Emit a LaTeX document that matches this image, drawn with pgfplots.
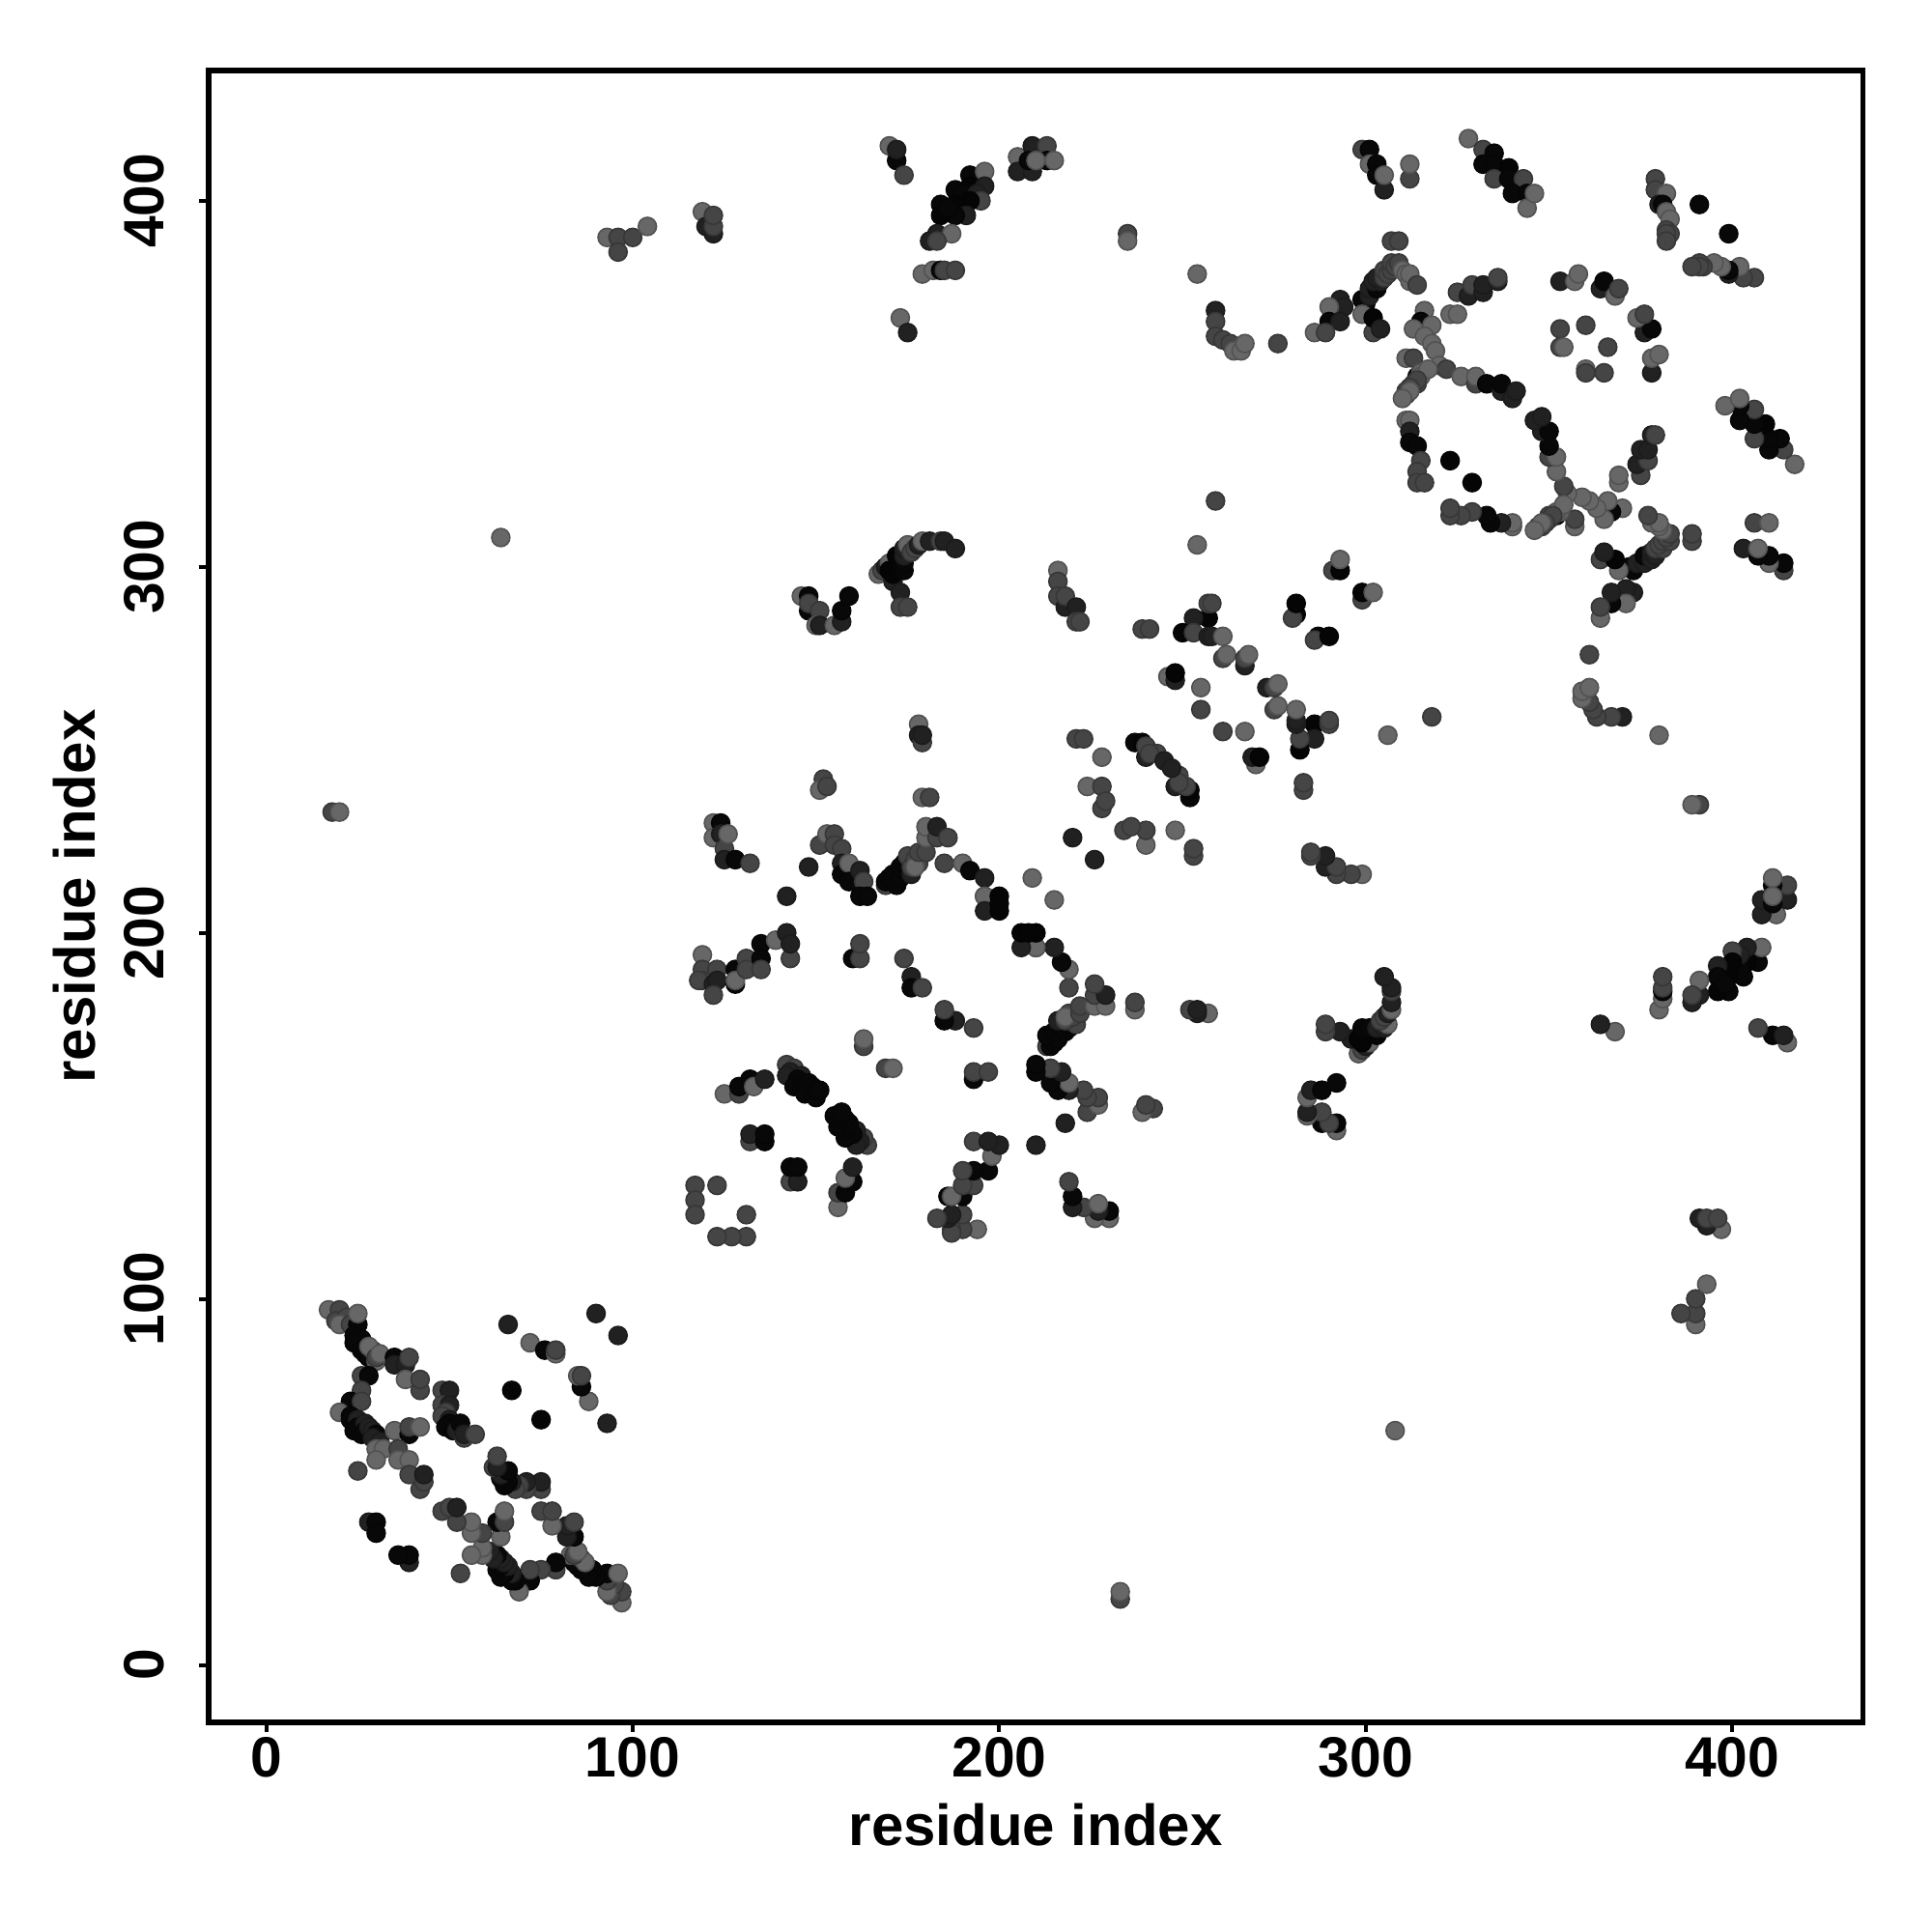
\documentclass[border=0pt]{standalone}
\usepackage{pgfplots}
\usepackage{pgfplotstable}
\usepackage{fontspec}
\setmainfont{Liberation Sans}
\pgfplotsset{compat=1.18}
\pgfplotstableread{
x y g
17 97 .4
20 97 .27
19 94 .27
22 95 .27
20 93 .4
23 93 .27
25 93 .03
24 90 .03
25 96 .4
26 89 .03
24 88 .03
26 86 .03
27 85 .03
28 84 .03
29 86 .27
28 87 .4
30 83 .4
30 84 .27
31 85 .4
35 84 .03
35 82 .13
38 82 .13
39 84 .27
38 78 .4
42 75 .27
42 78 .27
26 79 .27
28 79 .03
26 75 .27
23 72 .03
26 72 .27
20 69 .4
23 68 .03
23 67 .03
24 66 .03
25 67 .13
25 65 .03
24 64 .03
26 63 .03
27 66 .13
27 64 .03
28 65 .13
29 64 .13
30 63 .03
29 62 .13
31 61 .13
30 59 .4
32 59 .4
30 56 .4
35 64 .4
39 63 .03
39 65 .27
42 65 .4
36 59 .27
36 56 .4
39 56 .4
39 52 .27
42 48 .27
43 50 .27
43 52 .13
25 53 .27
28 39 .13
30 39 .03
30 36 .03
48 75 .27
50 75 .13
48 71 .27
50 71 .13
49 69 .27
48 68 .27
50 67 .13
50 66 .03
49 65 .03
51 64 .03
52 65 .03
52 64 .13
53 66 .03
54 62 .27
54 63 .13
57 63 .27
66 93 .13
72 88 .4
76 86 .03
79 85 .4
79 86 .27
67 75 .02
90 96 .13
119 194 .4
119 190 .27
119 187 .27
118 187 .27
122 186 .13
123 190 .27
123 187 .13
122 183 .27
128 186 .03
128 190 .03
128 187 .4
131 193 .27
131 190 .27
135 197 .03
135 193 .03
135 190 .27
139 198 .4
143 193 .27
142 200 .13
143 197 .13
122 230 .4
124 230 .03
122 226 .4
124 227 .13
125 223 .27
126 227 .4
125 220 .13
128 220 .03
132 219 .27
148 218 .13
142 210 .13
152 242 .27
151 239 .4
153 240 .27
178 257 .4
178 254 .13
179 252 .27
179 254 .13
179 237 .4
181 237 .27
221 253 .27
223 253 .27
228 248 .4
224 240 .4
228 240 .27
228 234 .27
229 236 .27
220 226 .13
160 193 .03
162 193 .27
162 197 .27
174 193 .27
176 188 .13
176 185 .03
179 185 .27
151 224 .27
153 227 .4
155 227 .27
155 224 .27
157 223 .27
157 219 .13
157 216 .03
159 219 .4
159 214 .03
162 217 .13
163 214 .27
162 210 .03
164 210 .03
169 213 .27
169 214 .03
170 215 .03
171 214 .03
171 216 .03
172 213 .03
173 215 .03
174 217 .03
173 218 .03
174 219 .03
176 216 .13
175 219 .03
175 221 .27
176 218 .27
177 220 .27
178 219 .27
177 218 .4
178 222 .27
180 222 .27
180 226 .4
180 229 .4
183 226 .27
183 229 .13
186 226 .27
185 219 .27
190 219 .4
192 217 .03
196 215 .13
209 215 .4
196 210 .13
196 210 .4
200 210 .02
196 206 .13
200 206 .02
200 208 .02
125 156 .4
129 156 .27
129 158 .03
132 160 .03
133 158 .4
136 160 .13
142 164 .27
144 163 .27
143 162 .13
142 161 .13
146 161 .13
145 160 .03
144 158 .03
146 158 .03
147 158 .03
147 156 .03
148 159 .03
149 156 .03
149 158 .03
150 155 .03
150 157 .03
151 157 .03
132 143 .27
132 145 .13
136 143 .03
136 145 .03
117 131 .27
123 131 .27
117 127 .27
117 123 .27
163 169 .27
163 171 .4
216 299 .4
216 296 .27
216 292 .27
218 289 .13
218 292 .27
221 289 .13
221 285 .27
222 285 .27
239 283 .27
241 283 .27
254 306 .4
259 318 .27
257 286 .02
253 286 .13
250 282 .02
253 282 .27
257 281 .13
258 281 .13
257 290 .27
258 290 .27
261 281 .4
261 275 .27
262 276 .4
267 273 .13
267 275 .27
268 276 .4
246 270 .4
248 269 .13
248 271 .02
255 267 .4
255 261 .27
281 287 .02
280 286 .27
281 290 .02
291 299 .27
293 299 .02
293 302 .4
237 252 .03
239 252 .02
240 248 .13
240 251 .27
243 249 .27
241 249 .27
245 247 .13
93 390 .4
96 390 .27
96 386 .27
100 390 .27
104 393 .4
119 397 .4
120 393 .13
122 391 .13
122 393 .27
122 396 .27
170 415 .4
172 411 .03
172 414 .13
174 407 .27
192 407 .03
196 408 .4
192 404 .02
196 404 .13
188 403 .03
190 402 .03
194 402 .13
195 400 .27
192 400 .02
188 399 .02
184 399 .03
191 396 .13
188 396 .03
184 396 .02
186 398 .03
183 391 .13
187 391 .4
181 389 .13
183 389 .27
179 380 .4
182 381 .4
184 381 .03
185 381 .27
188 381 .27
173 368 .4
175 364 .13
205 412 .4
205 408 .13
209 408 .13
209 415 .13
208 411 .03
213 415 .27
213 411 .03
210 411 .4
215 411 .4
146 292 .4
148 288 .03
148 292 .03
148 290 .27
151 288 .27
150 284 .4
151 284 .13
155 284 .4
157 285 .13
157 288 .03
159 292 .03
167 298 .4
168 299 .27
169 300 .13
170 301 .4
171 296 .13
170 299 .02
171 298 .02
172 300 .02
174 299 .03
173 302 .02
172 303 .02
174 301 .03
174 303 .13
174 305 .13
175 306 .4
176 304 .27
177 305 .27
178 306 .13
179 307 .4
181 307 .13
184 307 .27
185 307 .13
188 305 .13
173 293 .13
173 289 .27
175 289 .27
254 380 .4
259 370 .13
259 367 .27
259 363 .27
261 362 .27
263 361 .27
264 359 .4
266 359 .4
267 361 .4
276 361 .27
299 414 .27
301 414 .03
301 410 .4
303 410 .03
303 407 .03
305 403 .13
305 407 .4
312 406 .27
312 410 .4
328 417 .4
332 414 .27
335 413 .03
332 410 .03
335 410 .03
339 409 .02
335 406 .27
339 406 .03
343 406 .27
340 402 .03
344 402 .03
344 398 .4
346 402 .4
379 406 .27
379 403 .27
382 402 .4
380 399 .13
381 399 .03
382 397 .4
383 395 .4
382 392 .27
383 391 .27
382 391 .27
382 389 .27
391 399 .03
307 389 .27
309 389 .27
300 372 .03
299 373 .03
301 374 .13
301 376 .13
303 376 .03
302 378 .13
304 378 .13
303 379 .13
305 379 .27
305 381 .27
306 380 .27
307 381 .27
307 383 .27
308 382 .27
309 383 .27
310 381 .4
311 380 .4
312 378 .4
312 380 .4
314 377 .27
293 373 .13
294 371 .13
290 371 .4
290 367 .03
293 367 .13
286 364 .4
289 364 .27
299 369 .4
302 364 .27
302 368 .02
304 365 .13
325 375 .27
328 374 .13
329 377 .27
332 375 .13
332 377 .13
336 378 .13
336 379 .27
323 369 .4
325 369 .4
316 370 .4
315 367 .03
313 365 .4
318 366 .4
316 363 .4
318 361 .4
319 359 .4
311 357 .4
313 357 .27
320 355 .4
322 354 .27
314 352 .03
315 353 .4
314 350 .27
315 352 .4
317 354 .4
313 350 .27
314 351 .27
312 349 .27
311 348 .27
311 347 .27
312 348 .4
310 346 .4
326 352 .4
330 350 .27
330 352 .4
333 350 .03
337 348 .13
337 350 .03
340 346 .13
341 348 .13
311 340 .4
312 340 .4
312 337 .13
312 334 .03
314 333 .03
315 329 .27
314 326 .27
314 323 .27
316 323 .27
323 329 .02
353 378 .13
357 378 .4
358 380 .4
364 376 .13
365 378 .03
368 374 .4
369 376 .27
353 365 .27
360 366 .27
353 360 .27
360 354 .4
18 233 .27
20 233 .4
235 391 .27
235 389 .4
64 308 .4
}\datatable
\begin{document}
\begin{tikzpicture}
\path[use as bounding box] (-54pt,-54.25pt) rectangle (446pt,445.75pt);
\begin{axis}[
  at={(0pt,0pt)},anchor=south west,
  scale only axis,width=428.1pt,height=427.5pt,
  xmin=-15.7,xmax=435.6,ymin=-15.7,ymax=435.6,
  axis line style={line width=1.3pt},
  tick style={line width=1pt,black},
  major tick length=2.5pt,
  tick align=outside,
  xtick={0,100,200,300,400},ytick={0,100,200,300,400},
  xtick pos=bottom,ytick pos=left,
  /pgf/number format/assume math mode=true,
  tick label style={font=\fontsize{14.7}{14.7}\selectfont\bfseries},
  xticklabel style={anchor=base,yshift=-11.5pt},
  yticklabel style={rotate=90,anchor=base,yshift=9.1pt},
  xlabel={residue index},ylabel={residue index},
  label style={font=\fontsize{15}{15}\selectfont\bfseries},
  xlabel style={at={(axis description cs:0.5,0)},anchor=base,yshift=-31.75pt},
  ylabel style={at={(axis description cs:0,0.5)},anchor=base,yshift=29.4pt},
  colormap={greyscale}{gray(0cm)=(0); gray(1cm)=(1)},
  point meta min=0,point meta max=1,
  clip=true,
]
\addplot[scatter,only marks,mark=*,mark size=2.35pt,point meta=explicit]
  table[x=x,y=y,meta=g] {\datatable};
\addplot[scatter,only marks,mark=*,mark size=2.35pt,point meta=explicit]
  table[x=y,y=x,meta=g] {\datatable};
\end{axis}
\end{tikzpicture}
\end{document}
